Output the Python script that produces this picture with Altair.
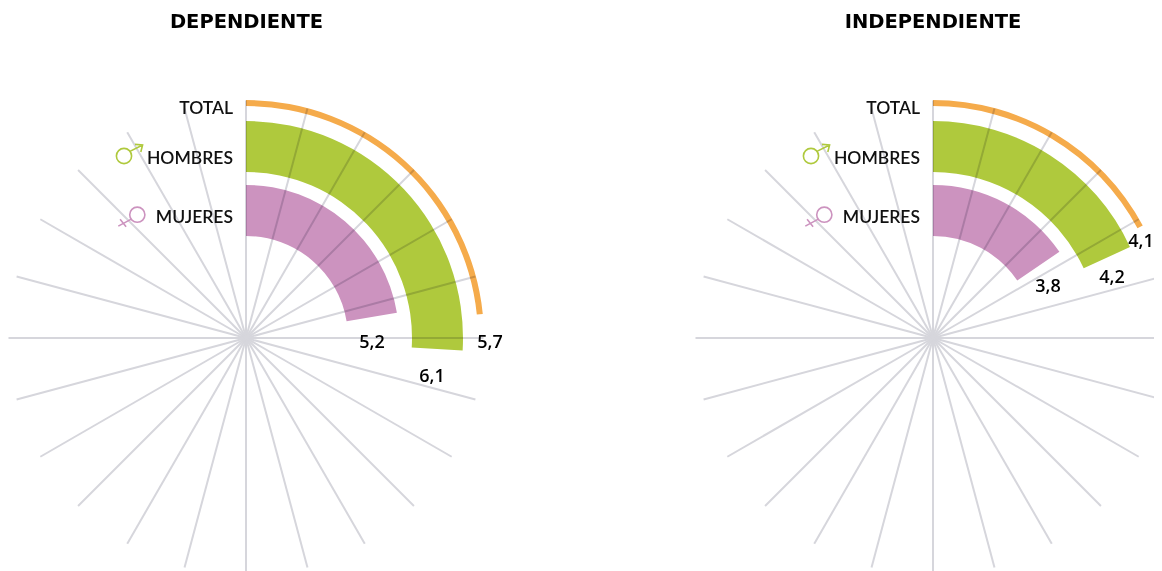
import math
import altair as alt
import pandas as pd

W, H = 1146, 563
MARGIN = 8
panels = ["DEPENDIENTE", "INDEPENDIENTE"]
panel_center_x = [246, 933]
center_y = 338
title_x = [246.5, 933]
title_y = 21.5

series = ["Total", "Hombres", "Mujeres"]
series_colors = ["#f5ab4b", "#afc93d", "#cc93bf"]
r_outer = [238, 217, 153]
r_inner = [232, 166, 102]

# swept angle (degrees clockwise from 12 o'clock)
sweep_dep = [84.2, 93.3, 80.5]
sweep_ind = [61.8, 65.2, 55.7]

value_labels = ["5,7", "6,1", "5,2", "4,1", "4,2", "3,8"]
value_x = [490, 432, 372, 1141, 1112, 1048]
value_y = [343, 377, 343, 242, 277.5, 287]

row_labels = ["TOTAL", "HOMBRES", "MUJERES"]
row_label_dx = [-13, -13, -13]
row_label_y = [109, 159, 218]

spoke_angles = list(range(0, 360, 15))
spoke_len = 237.5
hub_radius = 25

rows = []
for p, cx, sw in zip(panels, panel_center_x, [sweep_dep, sweep_ind]):
    for s, c, ro, ri, a in zip(series, series_colors, r_outer, r_inner, sw):
        rows.append(dict(panel=p, cx=cx, cy=center_y, series=s, ro=ro, ri=ri, t0=0, t1=a, color=c))
arcs = pd.DataFrame(rows)

hub, outer = [], []
for cx in panel_center_x:
    for a in spoke_angles:
        t = math.radians(a)
        sx, sy = math.sin(t), -math.cos(t)
        hub.append(dict(x=cx, y=center_y, x2=cx + hub_radius * sx, y2=center_y + hub_radius * sy))
        outer.append(dict(x=cx + hub_radius * sx, y=center_y + hub_radius * sy,
                          x2=cx + spoke_len * sx, y2=center_y + spoke_len * sy))
hub = pd.DataFrame(hub)
outer = pd.DataFrame(outer)

xs = alt.Scale(domain=[MARGIN, MARGIN + W], range=[0, W], nice=False, zero=False)
ys = alt.Scale(domain=[MARGIN, MARGIN + H], range=[0, H], nice=False, zero=False)
X = alt.X("x:Q", scale=xs, axis=None)
Y = alt.Y("y:Q", scale=ys, axis=None)

arc_layer = alt.Chart(arcs).mark_arc().encode(
    x=alt.X("cx:Q", scale=xs, axis=None),
    y=alt.Y("cy:Q", scale=ys, axis=None),
    theta=alt.Theta("t0:Q", scale=alt.Scale(domain=[0, 360], range=[0, 2 * math.pi]), stack=None),
    theta2=alt.Theta2("t1:Q"),
    radius=alt.Radius("ro:Q", scale=alt.Scale(domain=[0, 238], range=[0, 238], type="linear")),
    radius2=alt.Radius2("ri:Q"),
    color=alt.Color("color:N", scale=None, legend=None),
)

hub_layer = alt.Chart(hub).mark_rule(color="#d6d6dc", strokeWidth=2).encode(
    x=X, y=Y, x2="x2:Q", y2="y2:Q"
)
spoke_layer = alt.Chart(outer).mark_rule(
    color="#d6d6dc", strokeWidth=2, blend="multiply"
).encode(x=X, y=Y, x2="x2:Q", y2="y2:Q")

titles = pd.DataFrame(dict(x=title_x, y=[title_y] * 2, t=panels))
title_layer = alt.Chart(titles).mark_text(
    font="DejaVu Sans", fontSize=19.5, fontWeight="bold", color="#000000", align="center", baseline="middle"
).encode(x=X, y=Y, text="t:N")

lab = pd.DataFrame(
    [dict(x=cx + d, y=y, t=t) for cx in panel_center_x for t, d, y in zip(row_labels, row_label_dx, row_label_y)]
)
label_layer = alt.Chart(lab).mark_text(
    font="Lato", fontSize=17.5, fontWeight=600, color="#111111", align="right", baseline="middle"
).encode(x=X, y=Y, text="t:N")

vals = pd.DataFrame(dict(x=value_x, y=value_y, t=value_labels))
value_layer = alt.Chart(vals).mark_text(
    font="Open Sans", fontSize=18, fontWeight=600, color="#000000", align="center", baseline="middle"
).encode(x=X, y=Y, text="t:N")

# gender glyphs: custom symbol paths, normalised to [-1, 1]
male_path = (
    "M0.38 0 A0.38 0.38 0 1 1 -0.38 0 A0.38 0.38 0 1 1 0.38 0 Z "
    "M0.27 -0.22 L0.93 -0.55 M0.55 -0.58 L0.93 -0.55 L0.84 -0.2"
)
female_path = (
    "M0.38 0 A0.38 0.38 0 1 1 -0.38 0 A0.38 0.38 0 1 1 0.38 0 Z "
    "M-0.3 0.22 L-0.95 0.57 M-0.86 0.23 L-0.56 0.6"
)
icons = [(male_path, 124, 156, series_colors[1]), (female_path, 137.3, 214.7, series_colors[2])]
icon_layers = []
for path, ix, iy, col in icons:
    for off in (0, panel_center_x[1] - panel_center_x[0]):
        d = pd.DataFrame(dict(x=[ix + off], y=[iy]))
        icon_layers.append(
            alt.Chart(d).mark_point(shape=path, size=1600, filled=False, stroke=col, strokeWidth=1.6, opacity=1).encode(x=X, y=Y)
        )

chart = alt.layer(arc_layer, hub_layer, spoke_layer, title_layer, label_layer, value_layer, *icon_layers).properties(
    width=W, height=H, padding=0, background="#ffffff",
    autosize=alt.AutoSizeParams(type="none"),
).configure_view(stroke=None)

chart.save("out.html", embed_options={"renderer": "svg", "actions": False})
